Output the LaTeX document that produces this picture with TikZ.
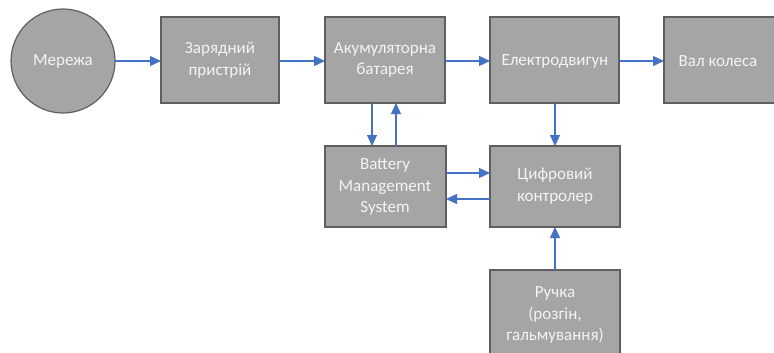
\documentclass[tikz,border=0pt]{standalone}
\usepackage{fontspec}
\setmainfont{Carlito}
\usetikzlibrary{arrows.meta}
\definecolor{boxfill}{HTML}{A5A5A5}
\definecolor{boxline}{HTML}{5F5F5F}
\definecolor{arrowblue}{HTML}{4472C4}
\definecolor{txt}{HTML}{F4F4F4}
\begin{document}
\begin{tikzpicture}[x=1pt,y=-1pt,
  blk/.style={draw=boxline,fill=boxfill,line width=1.2pt},
  lbl/.style={text=txt,font=\fontsize{17}{21.5}\selectfont,align=center},
  arr/.style={draw=arrowblue,line width=1.2pt,-{Triangle[length=11pt,width=10pt]}}]
\useasboundingbox (0,0) rectangle (774,353);
\clip (0,0) rectangle (774,353);
% shapes
\draw[blk] (63,61) circle (52);
\node[lbl] (mer) at (63,61) {Мережа};
\coordinate (merE) at (115,61);
\draw[blk] (161,17) rectangle (279,103);
\node[lbl] (zar) at (220,60) {Зарядний\\пристрій};
\coordinate (zarW) at (161,61); \coordinate (zarE) at (279,61);
\draw[blk] (325,17) rectangle (445,103);
\node[lbl] (akb) at (385,60) {Акумуляторна\\батарея};
\coordinate (akbW) at (325,61); \coordinate (akbE) at (445,61);
\coordinate (akbS1) at (372,103); \coordinate (akbS2) at (396,103);
\draw[blk] (490,17) rectangle (619,103);
\node[lbl] (mot) at (555,61) {Електродвигун};
\coordinate (motW) at (490,61); \coordinate (motE) at (619,61);
\coordinate (motS) at (555,103);
\draw[blk] (664,17) rectangle (790,103);
\node[lbl] (val) at (718,61) {Вал колеса};
\coordinate (valW) at (664,61);
\draw[blk] (325,146) rectangle (446,227);
\node[lbl] (bms) at (385,187) {Battery\\Management\\System};
\coordinate (bmsN1) at (372,146); \coordinate (bmsN2) at (396,146);
\coordinate (bmsE1) at (446,173); \coordinate (bmsE2) at (446,199);
\draw[blk] (490,146) rectangle (620,227);
\node[lbl] (ctl) at (555,186) {Цифровий\\контролер};
\coordinate (ctlN) at (555,146); \coordinate (ctlS) at (555,227);
\coordinate (ctlW1) at (490,173); \coordinate (ctlW2) at (490,199);
\draw[blk] (490,270) rectangle (620,370);
\node[lbl] (ruc) at (555,315) {Ручка\\(розгін,\\гальмування)};
\coordinate (rucN) at (555,270);
% connectors
\draw[arr] (merE) -- (zarW);
\draw[arr] (zarE) -- (akbW);
\draw[arr] (akbE) -- (motW);
\draw[arr] (motE) -- (valW);
\draw[arr] (akbS1) -- (bmsN1);
\draw[arr] (bmsN2) -- (akbS2);
\draw[arr] (motS) -- (ctlN);
\draw[arr] (bmsE1) -- (ctlW1);
\draw[arr] (ctlW2) -- (bmsE2);
\draw[arr] (rucN) -- (ctlS);
\end{tikzpicture}
\end{document}
